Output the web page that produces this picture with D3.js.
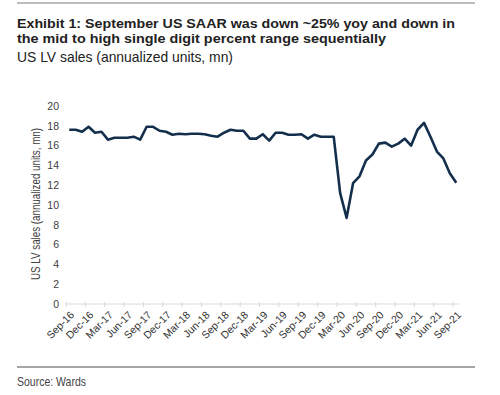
<!DOCTYPE html>
<html lang="en">
<head>
    <meta charset="UTF-8">
    <title>US LV sales</title>
    <script src="https://cdn.jsdelivr.net/npm/d3@7"></script>
    <style>
        body{
            margin: 0;
            background: #fff;
        }
        svg{
            display: block;
        }
        .narrow{
            font-family: "Liberation Sans", Arial, sans-serif;
        }
        .tick text{
            font-family: "Liberation Sans", Arial, sans-serif;
            font-size: 10.5px;
            fill: #404040;
        }
        .salesline{
            stroke: #142f4c;
            stroke-width: 2.6px;
            fill: none;
            stroke-linejoin: round;
        }
    </style>
</head>
<body>
    <script>
        // data (monthly, Sep-16 .. Sep-21)
        const months = ["Sep-16","Oct-16","Nov-16","Dec-16","Jan-17","Feb-17","Mar-17","Apr-17","May-17","Jun-17",
                        "Jul-17","Aug-17","Sep-17","Oct-17","Nov-17","Dec-17","Jan-18","Feb-18","Mar-18","Apr-18",
                        "May-18","Jun-18","Jul-18","Aug-18","Sep-18","Oct-18","Nov-18","Dec-18","Jan-19","Feb-19",
                        "Mar-19","Apr-19","May-19","Jun-19","Jul-19","Aug-19","Sep-19","Oct-19","Nov-19","Dec-19",
                        "Jan-20","Feb-20","Mar-20","Apr-20","May-20","Jun-20","Jul-20","Aug-20","Sep-20","Oct-20",
                        "Nov-20","Dec-20","Jan-21","Feb-21","Mar-21","Apr-21","May-21","Jun-21","Jul-21","Aug-21","Sep-21"];
        const sales = [17.6, 17.6, 17.4, 17.9, 17.3, 17.4, 16.6, 16.8, 16.8, 16.8,
                       16.9, 16.6, 17.9, 17.9, 17.5, 17.4, 17.1, 17.2, 17.15, 17.2,
                       17.2, 17.15, 17.0, 16.9, 17.3, 17.6, 17.5, 17.5, 16.7, 16.7,
                       17.15, 16.5, 17.3, 17.3, 17.1, 17.1, 17.15, 16.7, 17.1, 16.9,
                       16.9, 16.9, 11.2, 8.7, 12.2, 12.9, 14.5, 15.1, 16.2, 16.3,
                       15.9, 16.2, 16.7, 16.0, 17.6, 18.3, 16.9, 15.4, 14.7, 13.2, 12.25];
        const yTicks = [0, 2, 4, 6, 8, 10, 12, 14, 16, 18, 20];
        const titleLines = ["Exhibit 1: September US SAAR was down ~25% yoy and down in",
                            "the mid to high single digit percent range sequentially"];
        const subtitle = "US LV sales (annualized units, mn)";
        const yLabel = "US LV sales (annualized units, mn)";
        const source = "Source: Wards";

        const width = 500, height = 395;
        const margins = {top: 106, bottom: 91, left: 66, right: 40.5};

        let svg = d3.select("body").append("svg")
            .attr("width", width)
            .attr("height", height);

        // rules top and bottom
        svg.append("line")
            .attr("x1", 17).attr("x2", 475)
            .attr("y1", 3).attr("y2", 3)
            .attr("stroke", "#a6a6a6").attr("stroke-width", 1.5);
        svg.append("line")
            .attr("x1", 17).attr("x2", 475)
            .attr("y1", 367).attr("y2", 367)
            .attr("stroke", "#a6a6a6").attr("stroke-width", 2);

        // titles (narrow look: squeeze Liberation Sans to the widths in the picture)
        const titleWidths = [438, 369];
        svg.append("g").selectAll("text")
            .data(titleLines)
            .enter()
            .append("text")
            .attr("class", "narrow")
            .attr("x", 17)
            .attr("y", (d, i) => 27.5 + i * 15.5)
            .attr("textLength", (d, i) => titleWidths[i])
            .attr("lengthAdjust", "spacingAndGlyphs")
            .style("font-size", "13.5px")
            .style("font-weight", "bold")
            .style("fill", "#222")
            .text(d => d);
        svg.append("text")
            .attr("class", "narrow")
            .attr("x", 17).attr("y", 61.5)
            .attr("textLength", 216)
            .attr("lengthAdjust", "spacingAndGlyphs")
            .style("font-size", "15px")
            .style("fill", "#222")
            .text(subtitle);
        svg.append("text")
            .attr("class", "narrow")
            .attr("x", 17).attr("y", 386)
            .attr("textLength", 69)
            .attr("lengthAdjust", "spacingAndGlyphs")
            .style("font-size", "13px")
            .style("fill", "#444")
            .text(source);

        // scales
        let xScale = d3.scaleBand()
            .domain(months)
            .range([margins.left, width - margins.right]);
        let yScale = d3.scaleLinear()
            .domain([0, 20])
            .range([height - margins.bottom, margins.top]);

        // y axis (labels only)
        const yAxis = d3.axisLeft(yScale).tickValues(yTicks).tickSize(0).tickPadding(0);
        let yg = svg.append("g")
            .attr("transform", `translate(${margins.left - 7},0)`)
            .call(yAxis);
        yg.select(".domain").remove();

        // x axis: ticks at band edges every 3 months
        const labelMonths = months.filter((d, i) => i % 3 === 0);
        let xg = svg.append("g")
            .attr("transform", `translate(0, ${height - margins.bottom})`);
        xg.append("line")
            .attr("x1", xScale.range()[0]).attr("x2", xScale.range()[1])
            .attr("stroke", "#d9d9d9").attr("stroke-width", 1);
        xg.selectAll(".xtick")
            .data(labelMonths)
            .enter()
            .append("line")
            .attr("class", "xtick")
            .attr("x1", d => xScale(d)).attr("x2", d => xScale(d))
            .attr("y1", -2).attr("y2", 3)
            .attr("stroke", "#d9d9d9");
        xg.selectAll(".xlab")
            .data(labelMonths)
            .enter()
            .append("text")
            .attr("class", "xlab")
            .attr("transform", d => `translate(${xScale(d) + xScale.bandwidth() / 2 + 3},${9}) rotate(-45)`)
            .attr("text-anchor", "end")
            .attr("dy", "0.35em")
            .style("font-family", "'Liberation Sans', Arial, sans-serif")
            .style("font-size", "10.5px")
            .style("fill", "#333")
            .text(d => d);

        // y axis title
        svg.append("text")
            .attr("transform", `translate(40, ${yScale(10) - 1}) rotate(-90)`)
            .attr("text-anchor", "middle")
            .attr("textLength", 152)
            .attr("lengthAdjust", "spacingAndGlyphs")
            .style("font-family", "'Liberation Sans', Arial, sans-serif")
            .style("font-size", "12.5px")
            .style("fill", "#404040")
            .text(yLabel);

        // line
        let salesline = d3.line()
            .x((d, i) => xScale(months[i]) + xScale.bandwidth() / 2)
            .y(d => yScale(d));
        svg.append("path")
            .data([sales])
            .attr("class", "salesline")
            .attr("d", salesline);
    </script>
</body>
</html>
